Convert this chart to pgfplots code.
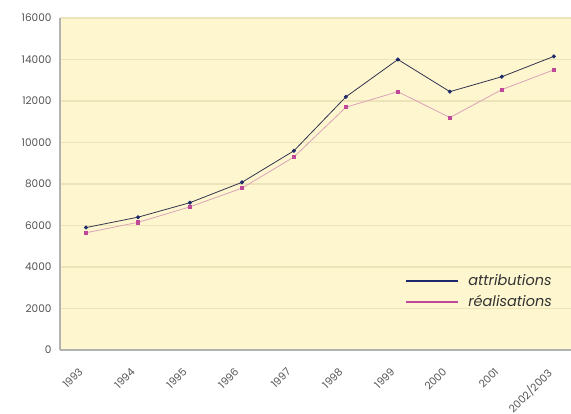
\documentclass[border=0pt]{standalone}
\usepackage{pgfplots}
\pgfplotsset{compat=1.18}
\usepackage{fontspec}
\setmainfont{Poppins}
\usetikzlibrary{calc}
\definecolor{bgy}{HTML}{FDF6CF}
\definecolor{gridy}{HTML}{EDE3B8}
\definecolor{navy}{HTML}{1C2A6B}
\definecolor{navyline}{HTML}{33344F}
\definecolor{mag}{HTML}{C0479A}
\definecolor{pinkline}{HTML}{DDA2B8}
\definecolor{ticktext}{HTML}{555555}
\begin{document}
\begin{tikzpicture}
\begin{axis}[
  scale only axis,
  width=511pt, height=332pt,
  xmin=-0.5, xmax=9.33,
  ymin=0, ymax=16000,
  axis background/.style={fill=bgy},
  ytick={0,2000,...,16000},
  xtick={0,...,9},
  xticklabels={1993,1994,1995,1996,1997,1998,1999,2000,2001,2002/2003},
  x tick label style={xshift=-8pt, yshift=-17pt, rotate=45, anchor=north east, font=\fontsize{10.5}{11}\selectfont, text=ticktext, inner sep=0pt},
  y tick label style={font=\fontsize{10.5}{12}\selectfont, text=ticktext, xshift=-5pt},
  /pgf/number format/assume math mode=true,
  scaled y ticks=false,
  yticklabel style={/pgf/number format/1000 sep={}},
  ymajorgrids,
  grid style={gridy, line width=1.2pt},
  major tick length=0pt,
  axis x line*=bottom,
  axis y line*=left,
  axis line style={draw=gray!60, line width=1.2pt},
  legend style={at={(0.967,0.176)}, anchor=east, draw=none, fill=none, inner sep=0pt,
    font=\itshape\fontsize{14.5}{16}\selectfont, row sep=4pt, text=black!80,
    nodes={inner ysep=2pt}},
  legend cell align=left,
  legend image code/.code={\draw[line width=1.6pt,#1] (0cm,0cm) -- (1.8cm,0cm); \path (2.1cm,0cm);},
]
\addlegendimage{navy}
\addlegendentry{attributions}
\addlegendimage{mag}
\addlegendentry{réalisations}
\addplot[pinkline, line width=0.8pt, mark=square*, mark size=1.6pt, mark options={fill=mag, draw=mag}] coordinates {
(0,5650) (1,6150) (2,6900) (3,7800) (4,9300) (5,11700) (6,12450) (7,11200) (8,12550) (9,13500)};
\addplot[navyline, line width=0.8pt, mark=*, mark size=1.6pt, mark options={fill=navy, draw=navy}] coordinates {
(0,5900) (1,6400) (2,7100) (3,8080) (4,9600) (5,12200) (6,14000) (7,12450) (8,13170) (9,14150)};
\end{axis}
\pgfresetboundingbox
\path ([shift={(-60pt,-64pt)}]current axis.south west) rectangle ([shift={(0pt,18pt)}]current axis.north east);
\end{tikzpicture}
\end{document}
